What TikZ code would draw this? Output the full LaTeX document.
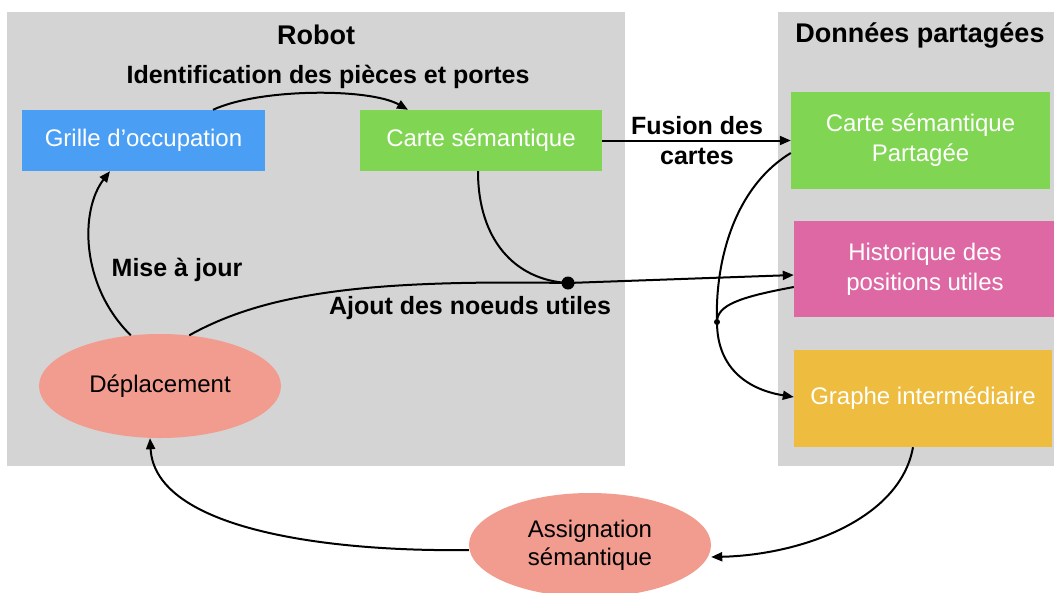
\documentclass[tikz,border=0pt]{standalone}
\usepackage{fontspec}
\setmainfont{Liberation Sans}
\usetikzlibrary{shapes.geometric,arrows.meta}
\definecolor{bggray}{RGB}{212,212,212}
\definecolor{cblue}{RGB}{74,159,245}
\definecolor{cgreen}{RGB}{128,214,83}
\definecolor{cpink}{RGB}{221,104,163}
\definecolor{cyellow}{RGB}{238,189,63}
\definecolor{csalmon}{RGB}{241,156,143}
\tikzset{
  panel/.style={fill=bggray,draw=none},
  boxtext/.style={font=\fontsize{24}{30}\selectfont,text=white,align=center},
  colbox/.style={rectangle,draw=none,inner sep=0pt,boxtext},
  oval/.style={ellipse,fill=csalmon,draw=none,inner sep=0pt,minimum width=242pt,minimum height=104pt,font=\fontsize{24}{28}\selectfont,align=center},
  title/.style={font=\bfseries\fontsize{27}{32}\selectfont},
  lbl/.style={font=\bfseries\fontsize{25}{30}\selectfont,align=center},
  conn/.style={line width=2pt,-{Triangle[length=11pt,width=9pt]}},
  plain/.style={line width=2pt},
}
\begin{document}
\begin{tikzpicture}[x=1pt,y=-1pt]
\useasboundingbox (0,0) rectangle (1054,592);
\clip (0,0) rectangle (1054,592);
\fill[white] (0,0) rectangle (1054,592);
% panels
\path[panel] (7,12) rectangle (625,466);
\path[panel] (778,12) rectangle (1054,466);
\node[title] (trobot) at (316,35) {Robot};
\node[title] (tdata) at (920,35) {Données partagées};
% boxes
\node[colbox,fill=cblue,minimum width=243pt,minimum height=61pt] (grille) at (143.5,140.5) {Grille d’occupation};
\node[colbox,fill=cgreen,minimum width=242pt,minimum height=61pt] (carte) at (481,140.5) {Carte sémantique};
\node[colbox,fill=cgreen,minimum width=259pt,minimum height=97pt] (partagee) at (920.5,140.5) {Carte sémantique\\Partagée};
\node[colbox,fill=cpink,minimum width=262pt,minimum height=96pt] (histo) at (925,269) {Historique des\\positions utiles};
\node[colbox,fill=cyellow,minimum width=258pt,minimum height=97pt] (graphe) at (923,398.5) {Graphe intermédiaire};
\node[oval] (depl) at (160,386) {Déplacement};
\node[oval] (assign) at (590,545) {Assignation\\sémantique};
% labels
\node[lbl] (lident) at (328,77) {Identification des pièces et portes};
\node[lbl] (lfusion) at (697,141) {Fusion des\\cartes};
\node[lbl] (lmaj) at (177,270) {Mise à jour};
\node[lbl] (lajout) at (470,308) {Ajout des noeuds utiles};
% junctions
\coordinate (j1) at (568,283);
\coordinate (j2) at (717,322);
% connectors
\draw[conn] ([xshift=69.5pt]grille.north) .. controls (260,88) and (370,88) .. ([xshift=-73pt]carte.north);
\draw[conn] (carte.east) -- (partagee.west);
\draw[conn] (depl.120) .. controls (80,285) and (80,210) .. ([xshift=-33.5pt]grille.south);
\draw[plain] (depl.60) .. controls (270,290) and (380,280) .. (j1);
\draw[plain] ([xshift=-3pt]carte.south) .. controls (478,240) and (515,280) .. (j1);
\draw[conn] (j1) -- ([yshift=-6pt]histo.west);
\draw[plain] ([yshift=-12.5pt]partagee.west) .. controls (730,190) and (715,270) .. (j2);
\draw[plain] ([yshift=-18pt]histo.west) .. controls (740,297) and (717,305) .. (j2);
\draw[conn] (j2) .. controls (717,370) and (750,390) .. ([yshift=1.5pt]graphe.west);
\draw[conn] ([xshift=-10pt]graphe.south) .. controls (900,520) and (800,555) .. ([yshift=-12pt]assign.east);
\draw[conn] ([yshift=-5pt]assign.west) .. controls (330,552) and (155,530) .. ([xshift=-10pt]depl.south);
\fill (j1) circle (6.5pt);
\fill (j2) circle (3pt);
\end{tikzpicture}
\end{document}
